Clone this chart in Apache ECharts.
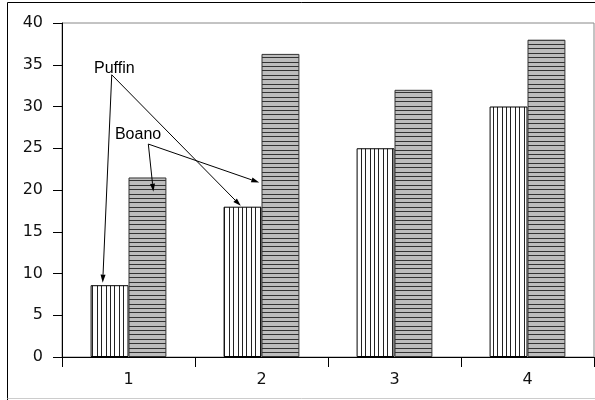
<!DOCTYPE html>
<html>
<head>
<meta charset="utf-8">
<script src="https://cdn.jsdelivr.net/npm/echarts@6/dist/echarts.min.js"></script>
<style>
html,body{margin:0;padding:0;background:#fff;}
#main{width:595px;height:400px;}
</style>
</head>
<body>
<div id="main"></div>
<script>
// ---- data ----
const categories = ['1', '2', '3', '4'];
const puffin = [8.6, 18, 25, 30];
const boano = [21.5, 36.3, 32, 38];
const yTicks = { min: 0, max: 40, interval: 5 };

// annotations (data coordinates: x in category units, 1..4; y in values)
const annotationNames = ['Puffin', 'Boano'];
const annotationText = [[0.741, 34.5], [0.898, 26.6]];
const annotationFrom = [[0.874, 33.8], [1.149, 25.5]];
const annotationTo = [
  [[0.806, 8.9], [1.844, 18.1]],
  [[1.187, 19.8], [1.983, 20.9]]
];

function makePattern(vertical, bg, fg) {
  const c = document.createElement('canvas');
  c.width = 22; c.height = 22;
  const ctx = c.getContext('2d');
  ctx.fillStyle = bg; ctx.fillRect(0, 0, 22, 22);
  ctx.fillStyle = fg;
  [0, 4, 9, 13, 18].forEach(p => {
    if (vertical) ctx.fillRect(p, 0, 1, 22); else ctx.fillRect(0, p, 22, 1);
  });
  return c;
}

const chart = echarts.init(document.getElementById('main'), null, { renderer: 'canvas' });

const option = {
  animation: false,
  backgroundColor: '#fff',
  grid: {
    left: 62, top: 23, right: 1, bottom: 43,
    containLabel: false, outerBoundsMode: 'none',
    show: true, borderColor: '#888', borderWidth: 1, backgroundColor: 'transparent'
  },
  xAxis: [{
    type: 'category', data: categories, boundaryGap: true,
    axisLine: { lineStyle: { color: '#000', width: 1 } },
    axisTick: { show: true, length: 10, lineStyle: { color: '#000' }, alignWithLabel: false },
    axisLabel: { color: '#111', fontFamily: 'DejaVu Sans', fontSize: 16, margin: 15 },
    splitLine: { show: false }
  }, {
    type: 'value', min: 0.5, max: 4.5, show: false
  }],
  yAxis: [{
    type: 'value', min: yTicks.min, max: yTicks.max, interval: yTicks.interval,
    axisLine: { show: true, lineStyle: { color: '#000', width: 1 } },
    axisTick: { show: true, length: 9, lineStyle: { color: '#000' } },
    axisLabel: { color: '#111', fontFamily: 'DejaVu Sans', fontSize: 16, margin: 19 },
    splitLine: { show: false }
  }],
  series: [{
    name: 'Puffin', type: 'bar', data: puffin,
    barGap: '0%', barCategoryGap: '43%',
    itemStyle: { color: { image: makePattern(true, '#fff', '#222'), repeat: 'repeat' }, borderColor: '#000', borderWidth: 1 }
  }, {
    name: 'Boano', type: 'bar', data: boano,
    barGap: '0%', barCategoryGap: '43%',
    itemStyle: { color: { image: makePattern(false, '#bdbdbd', '#333'), repeat: 'repeat' }, borderColor: '#333', borderWidth: 1 }
  }]
};
chart.setOption(option);

function px(p) {
  return chart.convertToPixel({ xAxisIndex: 1, yAxisIndex: 0 }, p);
}

const elements = [
  { type: 'line', shape: { x1: 7.5, y1: 2.5, x2: 595, y2: 2.5 }, style: { stroke: '#000', lineWidth: 1 }, silent: true },
  { type: 'line', shape: { x1: 7.5, y1: 2.5, x2: 7.5, y2: 400 }, style: { stroke: '#000', lineWidth: 1 }, silent: true },
  { type: 'line', shape: { x1: 7.5, y1: 398.5, x2: 595, y2: 398.5 }, style: { stroke: '#ccc', lineWidth: 1 }, silent: true }
];

annotationNames.forEach((name, i) => {
  const t = px(annotationText[i]);
  elements.push({
    type: 'text', x: t[0], y: t[1],
    style: { text: name, fill: '#000', font: '16px "Liberation Sans", Arial, sans-serif', textAlign: 'left', textVerticalAlign: 'middle' },
    silent: true, z: 100
  });
  const s = px(annotationFrom[i]);
  annotationTo[i].forEach(end => {
    const e = px(end);
    const dx = e[0] - s[0], dy = e[1] - s[1];
    const len = Math.sqrt(dx * dx + dy * dy);
    const ux = dx / len, uy = dy / len;
    const hl = 8, hw = 2.5;
    const bx = e[0] - ux * hl, by = e[1] - uy * hl;
    elements.push({
      type: 'line', shape: { x1: s[0], y1: s[1], x2: bx, y2: by },
      style: { stroke: '#000', lineWidth: 1 }, silent: true, z: 100
    });
    elements.push({
      type: 'polygon',
      shape: { points: [[e[0], e[1]], [bx - uy * hw, by + ux * hw], [bx + uy * hw, by - ux * hw]] },
      style: { fill: '#000' }, silent: true, z: 100
    });
  });
});

chart.setOption({ graphic: { elements: elements } });
</script>
</body>
</html>
